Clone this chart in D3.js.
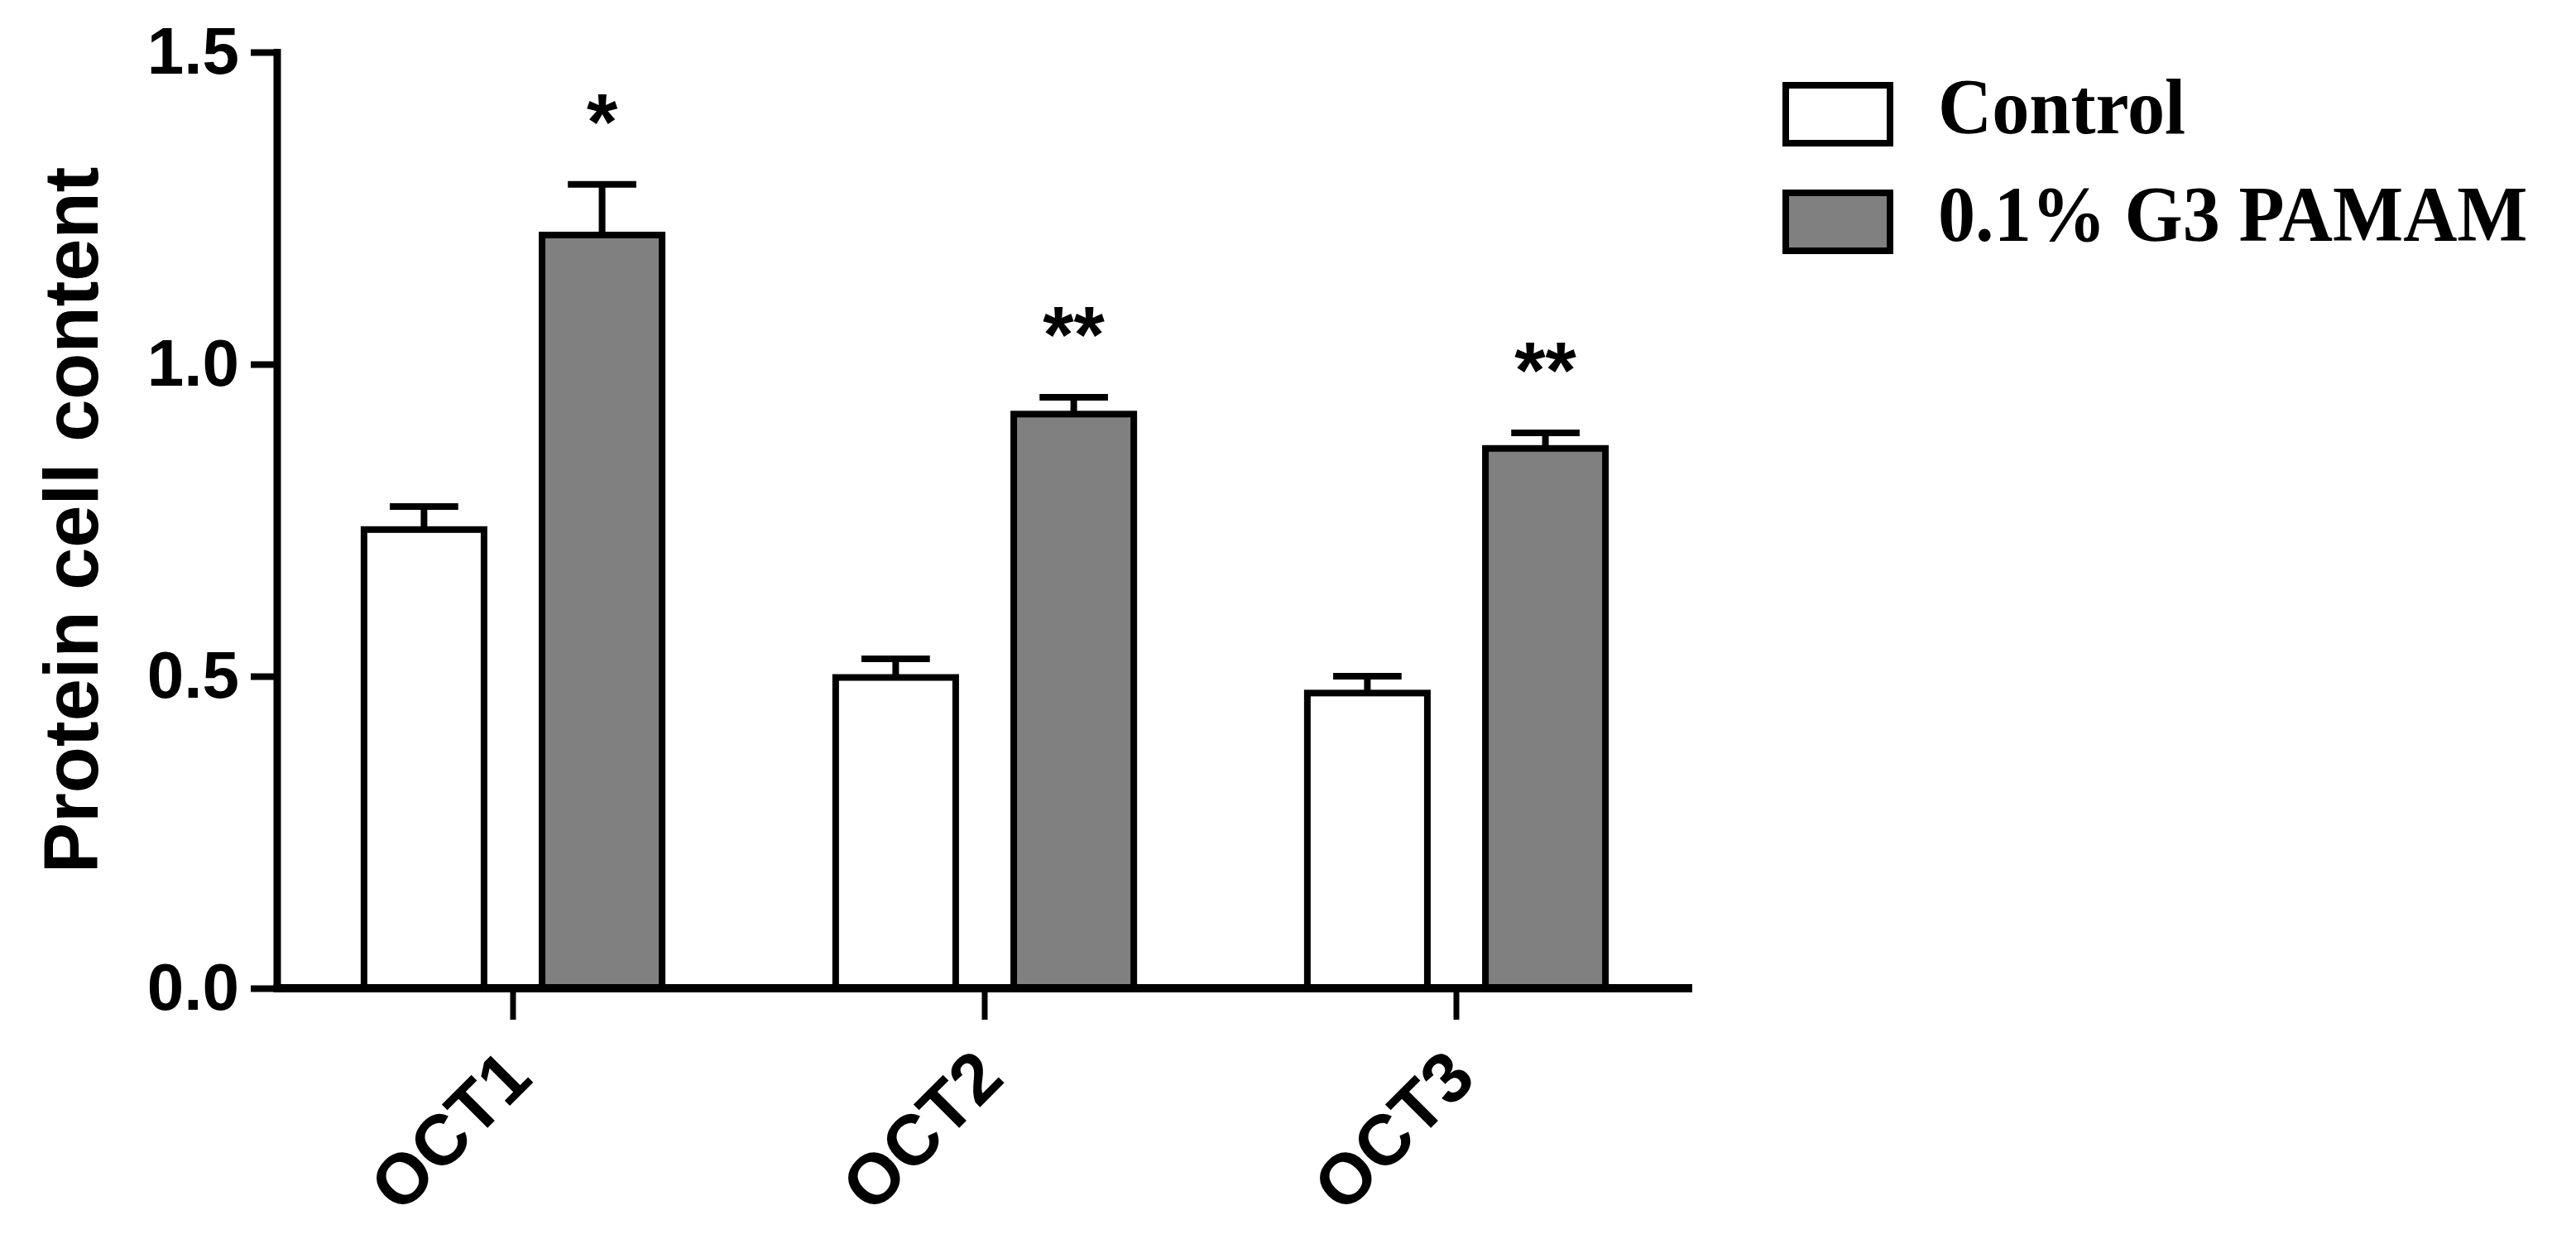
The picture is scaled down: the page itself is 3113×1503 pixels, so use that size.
<!DOCTYPE html>
<html>
<head>
<meta charset="utf-8">
<script src="https://cdn.jsdelivr.net/npm/d3@7"></script>
<style>
  html, body { margin: 0; padding: 0; background: #fff; }
  svg { display: block; }
</style>
</head>
<body>
<div id="chart"></div>
<script>
// values
const categories = ['OCT1', 'OCT2', 'OCT3']
const seriesNames = ['Control', '0.1% G3 PAMAM']
const controlMean = [0.735, 0.498, 0.473]
const controlSem = [0.037, 0.030, 0.027]
const pamamMean = [1.207, 0.920, 0.865]
const pamamSem = [0.081, 0.027, 0.025]
const significance = ['*', '**', '**']
const yTicks = [0, 0.5, 1.0, 1.5]
const yLabel = 'Protein cell content'

const width = 3113
const height = 1503
const plotLeft = 335, plotRight = 2045, plotTop = 63, plotBottom = 1194
const fills = ['#ffffff', '#808080']
const sansBold = '"Liberation Sans", Arial, sans-serif'
const serif = '"Liberation Serif", "Times New Roman", serif'

function drawChart() {
  let svg = d3.select('#chart')
    .append('svg')
    .attr('width', width)
    .attr('height', height)

  svg.append('rect').attr('width', width).attr('height', height).attr('fill', '#fff')

  let xScale = d3.scaleBand()
    .domain(categories)
    .range([plotLeft, plotRight])
    .paddingInner(0.368)
    .paddingOuter(0.184)

  let subScale = d3.scaleBand()
    .domain(seriesNames)
    .range([0, xScale.bandwidth()])
    .paddingInner(0.326)

  let yScale = d3.scaleLinear()
    .domain([0, 1.5])
    .range([plotBottom, plotTop])

  // rows for each bar
  let rows = []
  categories.forEach((c, i) => {
    rows.push({cat: c, series: seriesNames[0], mean: controlMean[i], sem: controlSem[i], fill: fills[0]})
    rows.push({cat: c, series: seriesNames[1], mean: pamamMean[i], sem: pamamSem[i], fill: fills[1], sig: significance[i]})
  })

  let bars = svg.append('g').attr('class', 'bars')

  // error bars first, the bar outline covers the joint
  rows.forEach(d => {
    let cx = xScale(d.cat) + subScale(d.series) + subScale.bandwidth() / 2
    let capW = subScale.bandwidth() * 0.57
    bars.append('line')
      .attr('x1', cx).attr('x2', cx)
      .attr('y1', yScale(d.mean)).attr('y2', yScale(d.mean + d.sem))
      .attr('stroke', '#000').attr('stroke-width', 8)
    bars.append('line')
      .attr('x1', cx - capW / 2).attr('x2', cx + capW / 2)
      .attr('y1', yScale(d.mean + d.sem)).attr('y2', yScale(d.mean + d.sem))
      .attr('stroke', '#000').attr('stroke-width', 8)
  })

  bars.selectAll('rect')
    .data(rows)
    .enter()
    .append('rect')
    .attr('x', d => xScale(d.cat) + subScale(d.series))
    .attr('y', d => yScale(d.mean))
    .attr('width', subScale.bandwidth())
    .attr('height', d => yScale(0) - yScale(d.mean))
    .attr('fill', d => d.fill)
    .attr('stroke', '#000')
    .attr('stroke-width', 8)

  // significance stars
  svg.append('g').selectAll('text')
    .data(rows.filter(d => d.sig))
    .enter()
    .append('text')
    .attr('x', d => xScale(d.cat) + subScale(d.series) + subScale.bandwidth() / 2)
    .attr('y', d => yScale(d.mean + d.sem) - 43)
    .attr('text-anchor', 'middle')
    .attr('font-family', sansBold)
    .attr('font-weight', 'bold')
    .attr('font-size', 96)
    .text(d => d.sig)

  // y axis
  let yAxis = d3.axisLeft(yScale)
    .tickValues(yTicks)
    .tickFormat(d3.format('.1f'))
    .tickSize(32)
    .tickSizeOuter(0)
    .tickPadding(14)

  let gy = svg.append('g')
    .attr('transform', `translate(${plotLeft}, 0)`)
    .call(yAxis)
  gy.select('.domain').attr('stroke-width', 9).attr('d', `M0,${plotBottom + 4}V${plotTop - 4}`)
  gy.selectAll('.tick line').attr('stroke-width', 8)
  gy.selectAll('.tick text')
    .attr('font-family', sansBold)
    .attr('font-weight', 'bold')
    .attr('font-size', 80)
    .attr('fill', '#000')

  // x axis
  let xAxis = d3.axisBottom(xScale)
    .tickSize(38)
    .tickSizeOuter(0)
    .tickFormat('')

  let gx = svg.append('g')
    .attr('transform', `translate(0, ${plotBottom})`)
    .call(xAxis)
  gx.select('.domain').attr('stroke-width', 10).attr('d', `M${plotLeft - 4.5},0H${plotRight}`)
  gx.selectAll('.tick line').attr('stroke-width', 7)

  svg.append('g').selectAll('text')
    .data(categories)
    .enter()
    .append('text')
    .attr('transform', d => `translate(${xScale(d) + xScale.bandwidth() / 2 + 26}, ${plotBottom + 112}) rotate(-45)`)
    .attr('text-anchor', 'end')
    .attr('font-family', sansBold)
    .attr('font-weight', 'bold')
    .attr('font-size', 86)
    .text(d => d)

  // y label
  svg.append('text')
    .attr('transform', `translate(118, ${(plotTop + plotBottom) / 2}) rotate(-90)`)
    .attr('text-anchor', 'middle')
    .attr('font-family', sansBold)
    .attr('font-weight', 'bold')
    .attr('font-size', 92)
    .text(yLabel)

  // legend
  let legend = svg.append('g').attr('transform', 'translate(2158, 103)')
  seriesNames.forEach((name, i) => {
    legend.append('rect')
      .attr('x', 0).attr('y', i * 130)
      .attr('width', 126).attr('height', 70)
      .attr('fill', fills[i])
      .attr('stroke', '#000')
      .attr('stroke-width', 8)
    legend.append('text')
      .attr('x', 184).attr('y', i * 130 + 58)
      .attr('font-family', serif)
      .attr('font-weight', 'bold')
      .attr('font-size', 96)
      .attr('transform', `translate(184, 0) scale(0.94, 1) translate(-184, 0)`)
      .text(name)
  })
}

drawChart()
</script>
</body>
</html>
